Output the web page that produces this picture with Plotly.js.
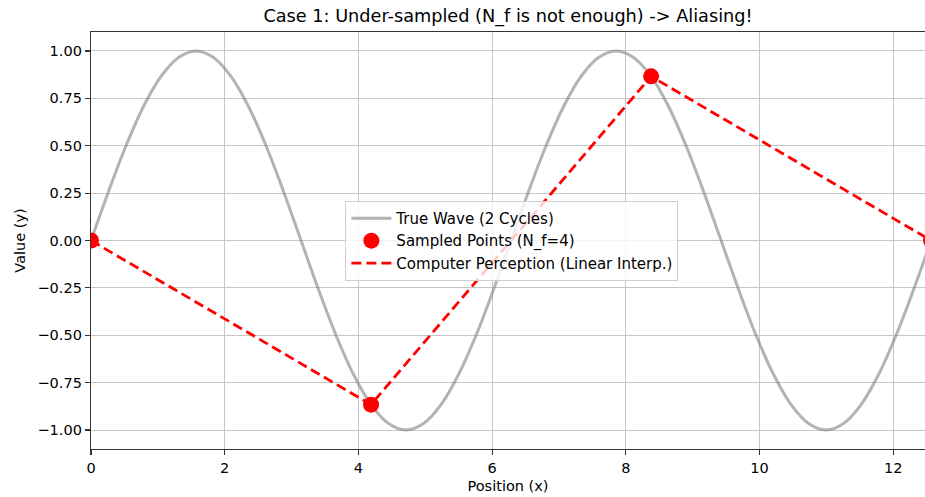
<!DOCTYPE html>
<html>
<head>
<meta charset="utf-8">
<script src="https://cdn.plot.ly/plotly-3.0.1.min.js"></script>
<style>html,body{margin:0;padding:0;background:#fff;}#chart{width:925px;height:497px;}</style>
</head>
<body>
<div id="chart"></div>
<script>
// True wave (2 cycles over 0..4π)
const waveX = [0, 0.262, 0.524, 0.785, 1.047, 1.309, 1.571, 1.833, 2.094, 2.356, 2.618, 2.880,
  3.142, 3.403, 3.665, 3.927, 4.189, 4.451, 4.712, 4.974, 5.236, 5.498, 5.760, 6.021,
  6.283, 6.545, 6.807, 7.069, 7.330, 7.592, 7.854, 8.116, 8.378, 8.639, 8.901, 9.163,
  9.425, 9.687, 9.948, 10.210, 10.472, 10.734, 10.996, 11.257, 11.519, 11.781, 12.043, 12.305, 12.566];
const waveY = [0, 0.259, 0.5, 0.707, 0.866, 0.966, 1, 0.966, 0.866, 0.707, 0.5, 0.259,
  0, -0.259, -0.5, -0.707, -0.866, -0.966, -1, -0.966, -0.866, -0.707, -0.5, -0.259,
  0, 0.259, 0.5, 0.707, 0.866, 0.966, 1, 0.966, 0.866, 0.707, 0.5, 0.259,
  0, -0.259, -0.5, -0.707, -0.866, -0.966, -1, -0.966, -0.866, -0.707, -0.5, -0.259, 0];
// Sampled points
const sampleX = [0, 4.189, 8.378, 12.566];
const sampleY = [0, -0.866, 0.866, 0];

const xTicks = [0, 2, 4, 6, 8, 10, 12];
const yTicks = [-1.0, -0.75, -0.5, -0.25, 0, 0.25, 0.5, 0.75, 1.0];

const font = 'DejaVu Sans, sans-serif';

const wave = {x: waveX, y: waveY, mode: 'lines', name: 'True Wave (2 Cycles)',
   line: {color: 'rgba(128,128,128,0.6)', width: 3, shape: 'spline', smoothing: 1}, legendrank: 1};
const points = {x: sampleX, y: sampleY, mode: 'markers', name: 'Sampled Points (N_f=4)',
   marker: {color: '#ff0000', size: 16}, cliponaxis: true, legendrank: 2};
const interp = {x: sampleX, y: sampleY, mode: 'lines', name: 'Computer Perception (Linear Interp.)',
   line: {color: '#ff0000', width: 2.8, dash: '10px,5px'}, legendrank: 3};

const layout = {
  width: 925, height: 497,
  margin: {l: 91, r: 0, t: 32, b: 47.5},
  paper_bgcolor: '#fff', plot_bgcolor: '#fff',
  font: {family: font, size: 14.5, color: '#000'},
  title: {text: 'Case 1: Under-sampled (N_f is not enough) -> Aliasing!', font: {size: 17.7, family: font, color: '#000'},
          x: 0.5, xref: 'paper', y: 0.968, yanchor: 'middle'},
  xaxis: {range: [0, 12.475], tickvals: xTicks, ticktext: xTicks.map(String),
          showgrid: true, gridcolor: '#c6c6c6', gridwidth: 1,
          showline: true, linecolor: '#333', linewidth: 1.2, mirror: true,
          ticks: 'outside', ticklen: 5, tickcolor: '#333', tickwidth: 1.2,
          zeroline: false, tickfont: {size: 14.5},
          title: {text: 'Position (x)', font: {size: 14.5}, standoff: 6}},
  yaxis: {range: [-1.1, 1.1], tickvals: yTicks, tickformat: '.2f',
          showgrid: true, gridcolor: '#c6c6c6', gridwidth: 1,
          showline: true, linecolor: '#333', linewidth: 1.2, mirror: false,
          ticks: 'outside', ticklen: 5, tickcolor: '#333', tickwidth: 1.2,
          zeroline: false, tickfont: {size: 14.5},
          title: {text: 'Value (y)', font: {size: 14.5}, standoff: 8}},
  legend: {x: 0.305, y: 0.595, xanchor: 'left', yanchor: 'top',
           bgcolor: 'rgba(255,255,255,0.8)', bordercolor: '#d0d0d0', borderwidth: 1,
           font: {size: 15}, traceorder: 'normal', itemwidth: 40, tracegroupgap: 0},
  showlegend: true
};

Plotly.newPlot('chart', [wave, interp, points], layout, {displayModeBar: false, staticPlot: true});
</script>
</body>
</html>
